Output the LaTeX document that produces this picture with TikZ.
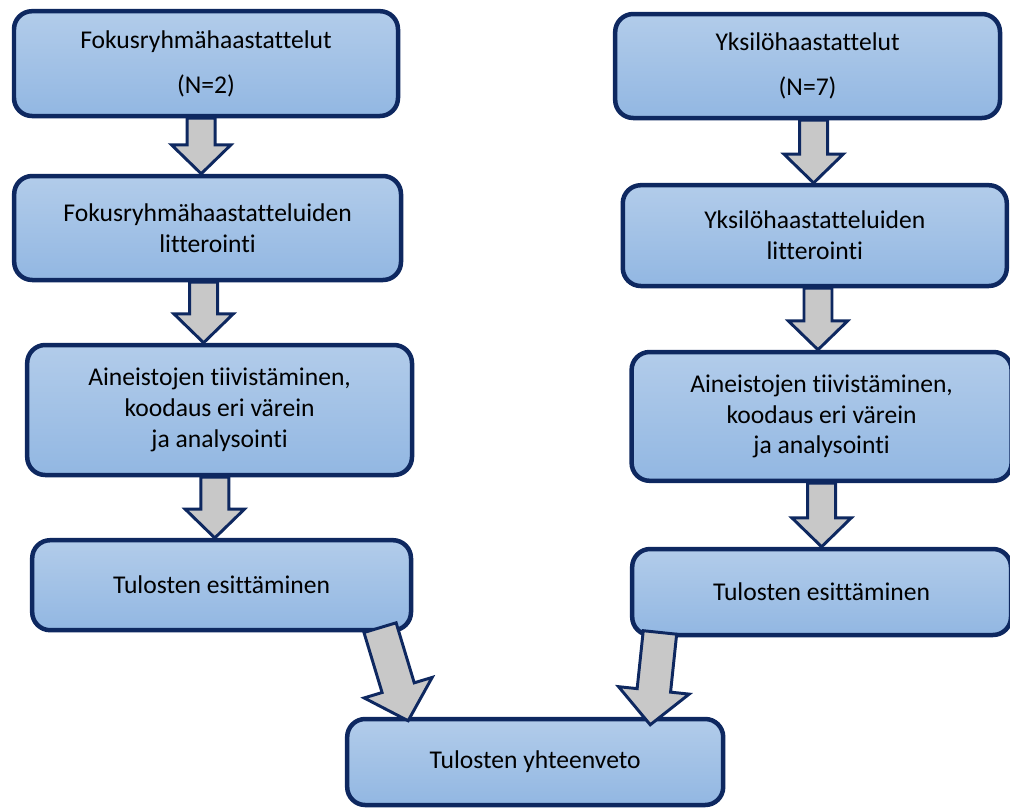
\documentclass[tikz,border=0pt]{standalone}
\usepackage{fontspec}
\setmainfont{Carlito}[Ligatures=NoCommon]
\usepackage{tikz}
\usetikzlibrary{calc}

\definecolor{boxtop}{RGB}{178,204,234}
\definecolor{boxbottom}{RGB}{146,183,226}
\definecolor{boxline}{RGB}{14,40,96}
\definecolor{arrowfill}{RGB}{200,200,200}

% block arrow from #2 to #3, #1 scales its width
\newcommand{\blockarrow}[3][1]{%
    \coordinate (ah) at ($(#3)!#1*0.72cm!(#2)$);
    \draw[arrowbox] ($(#2)!#1*0.35cm!90:(#3)$) -- ($(ah)!#1*0.35cm!90:(#3)$)
        -- ($(ah)!#1*0.74cm!90:(#3)$) -- (#3) -- ($(ah)!#1*0.74cm!-90:(#3)$)
        -- ($(ah)!#1*0.35cm!-90:(#3)$) -- ($(#2)!#1*0.35cm!-90:(#3)$) -- cycle;
}

\begin{document}
\begin{tikzpicture}[
        step box/.style={draw=boxline, line width=3.2pt, rounded corners=0.45cm,
            top color=boxtop, bottom color=boxbottom, align=center,
            font=\fontsize{18.2}{22}\selectfont, inner sep=0pt},
        arrowbox/.style={draw=boxline, line width=2.1pt, fill=arrowfill, line join=miter}]
        \useasboundingbox (0,0) rectangle (25.25,-20.2);

        \node (b1) [step box, minimum width=9.6cm, minimum height=2.62cm] at (5.15,-1.59)
            {Fokusryhmähaastattelut\\[10pt](N=2)};
        \node (b2) [step box, minimum width=9.67cm, minimum height=2.6cm] at (5.19,-5.7)
            {Fokusryhmähaastatteluiden\\litterointi};
        \node (b3) [step box, minimum width=9.62cm, minimum height=3.25cm] at (5.49,-10.25)
            {Aineistojen tiivistäminen,\\koodaus eri värein\\ja analysointi};
        \node (b4) [step box, minimum width=9.47cm, minimum height=2.25cm] at (5.54,-14.63)
            {Tulosten esittäminen};

        \node (r1) [step box, minimum width=9.62cm, minimum height=2.6cm] at (20.19,-1.65)
            {Yksilöhaastattelut\\[10pt](N=7)};
        \node (r2) [step box, minimum width=9.6cm, minimum height=2.52cm] at (20.37,-5.89)
            {Yksilöhaastatteluiden\\litterointi};
        \node (r3) [step box, minimum width=9.5cm, minimum height=3.22cm] at (20.54,-10.41)
            {Aineistojen tiivistäminen,\\koodaus eri värein\\ja analysointi};
        \node (r4) [step box, minimum width=9.47cm, minimum height=2.15cm] at (20.54,-14.8)
            {Tulosten esittäminen};

        \node (t) [step box, minimum width=9.4cm, minimum height=2.15cm] at (13.38,-19.05)
            {Tulosten yhteenveto};

        % vertical arrows
        \coordinate (a1) at ($(b1.south)+(-0.12,0)$);
        \coordinate (a2) at ($(b2.south)+(-0.1,0)$);
        \coordinate (a3) at ($(b3.south)+(-0.12,0)$);
        \coordinate (c1) at ($(r1.south)+(0.15,0)$);
        \coordinate (c2) at ($(r2.south)+(0.08,0)$);
        \coordinate (c3) at ($(r3.south)+(0,0)$);
        \blockarrow{a1}{a1 |- b2.north}
        \blockarrow{a2}{a2 |- b3.north}
        \blockarrow{a3}{a3 |- b4.north}
        \blockarrow{c1}{c1 |- r2.north}
        \blockarrow{c2}{c2 |- r3.north}
        \blockarrow{c3}{c3 |- r4.north}

        % arrows into the summary
        \coordinate (ls) at ($(b4.south east)+(-0.83,0.12)$);
        \coordinate (le) at ($(t.north west)+(1.58,-0.1)$);
        \coordinate (rs) at ($(r4.south west)+(0.75,0.12)$);
        \coordinate (re) at ($(t.north east)+(-1.88,-0.2)$);
        \blockarrow[1.2]{ls}{le}
        \blockarrow[1.2]{rs}{re}
\end{tikzpicture}
\end{document}
